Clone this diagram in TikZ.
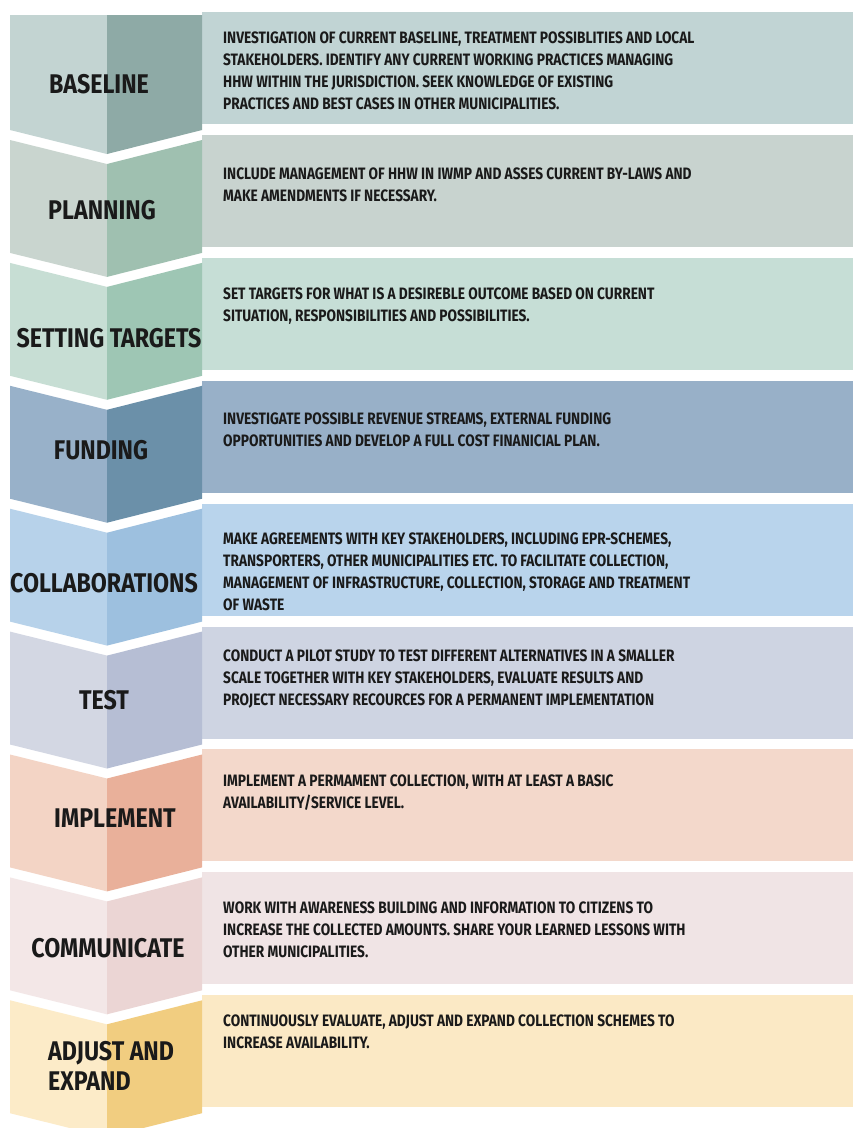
\documentclass[tikz,border=0pt]{standalone}
\usepackage{fontspec}
\setmainfont{Fira Sans}
\newfontfamily\descfont{Fira Sans}[FakeStretch=0.83]
\newfontfamily\labelfont{Fira Sans}[FakeStretch=0.86]
\definecolor{txt}{HTML}{1A1A1A}
\definecolor{aL}{HTML}{C3D4D2}\definecolor{aR}{HTML}{8EAAA6}\definecolor{aP}{HTML}{C1D4D4}
\definecolor{bL}{HTML}{C9D5CF}\definecolor{bR}{HTML}{9FC0B0}\definecolor{bP}{HTML}{C8D3CF}
\definecolor{cL}{HTML}{C7DED4}\definecolor{cR}{HTML}{9EC6B4}\definecolor{cP}{HTML}{C6DED6}
\definecolor{dL}{HTML}{98B1C9}\definecolor{dR}{HTML}{6B90A9}\definecolor{dP}{HTML}{98B0C8}
\definecolor{eL}{HTML}{B7D2EA}\definecolor{eR}{HTML}{9DC0DF}\definecolor{eP}{HTML}{B9D4EC}
\definecolor{fL}{HTML}{D3D7E3}\definecolor{fR}{HTML}{B6BED4}\definecolor{fP}{HTML}{CED4E2}
\definecolor{gL}{HTML}{F3D4C5}\definecolor{gR}{HTML}{E9B09A}\definecolor{gP}{HTML}{F3D8CB}
\definecolor{hL}{HTML}{F3E7E7}\definecolor{hR}{HTML}{EBD5D4}\definecolor{hP}{HTML}{F0E4E5}
\definecolor{iL}{HTML}{FCEBC8}\definecolor{iR}{HTML}{F1CD80}\definecolor{iP}{HTML}{FBE9C5}
\tikzset{
  desc/.style={anchor=north west, inner sep=0pt, align=left, text=txt,
    font=\descfont\fontsize{16.5}{21.7}\selectfont\bfseries},
  stagelabel/.style={inner sep=0pt, text=txt, align=left,
    font=\labelfont\fontsize{27}{30}\selectfont\bfseries}
}
\begin{document}
\begin{tikzpicture}[x=1pt,y=-1pt]
\useasboundingbox (0,0) rectangle (853,1128);
\fill[white] (0,0) rectangle (853,1128);
% panels and chevrons
\foreach \i/\c in {1/a,2/b,3/c,4/d,5/e,6/f,7/g,8/h,9/i}{
  \pgfmathsetmacro{\pt}{12+(\i-1)*122.9}
  \pgfmathsetmacro{\pb}{\pt+112}
  \fill[\c P] (202,\pt) rectangle (853,\pb);
  \pgfmathsetmacro{\t}{140+(\i-2)*122.9}
  \pgfmathsetmacro{\b}{140+(\i-1)*122.9-10}
  \ifnum\i=1
    \fill[\c L] (10,15) -- (107,15) -- (107,\b+24) -- (10,\b) -- cycle;
    \fill[\c R] (107,15) -- (202,15) -- (202,\b) -- (107,\b+24) -- cycle;
  \else
    \fill[\c L] (10,\t) -- (107,\t+24) -- (107,\b+24) -- (10,\b) -- cycle;
    \fill[\c R] (107,\t+24) -- (202,\t) -- (202,\b) -- (107,\b+24) -- cycle;
  \fi
}
% stage labels
\node[stagelabel] (l1) at (99,84) {BASELINE};
\node[stagelabel] (l2) at (102,210) {PLANNING};
\node[stagelabel] (l3) at (109,338) {SETTING TARGETS};
\node[stagelabel] (l4) at (101,450) {FUNDING};
\node[stagelabel] (l5) at (104,583) {COLLABORATIONS};
\node[stagelabel] (l6) at (104,700) {TEST};
\node[stagelabel] (l7) at (115,818) {IMPLEMENT};
\node[stagelabel] (l8) at (108,948) {COMMUNICATE};
\node[stagelabel, anchor=north west] (l9) at (48,1041) {ADJUST AND\\EXPAND};
% descriptions
\node[desc] (d1) at (223,32) {INVESTIGATION OF CURRENT BASELINE, TREATMENT POSSIBLITIES AND LOCAL\\STAKEHOLDERS. IDENTIFY ANY CURRENT WORKING PRACTICES MANAGING\\HHW WITHIN THE JURISDICTION. SEEK KNOWLEDGE OF EXISTING\\PRACTICES AND BEST CASES IN OTHER MUNICIPALITIES.};
\node[desc] (d2) at (223,168) {INCLUDE MANAGEMENT OF HHW IN IWMP AND ASSES CURRENT BY-LAWS AND\\MAKE AMENDMENTS IF NECESSARY.};
\node[desc] (d3) at (223,288) {SET TARGETS FOR WHAT IS A DESIREBLE OUTCOME BASED ON CURRENT\\SITUATION, RESPONSIBILITIES AND POSSIBILITIES.};
\node[desc] (d4) at (223,413) {INVESTIGATE POSSIBLE REVENUE STREAMS, EXTERNAL FUNDING\\OPPORTUNITIES AND DEVELOP A FULL COST FINANICIAL PLAN.};
\node[desc] (d5) at (223,533) {MAKE AGREEMENTS WITH KEY STAKEHOLDERS, INCLUDING EPR-SCHEMES,\\TRANSPORTERS, OTHER MUNICIPALITIES ETC. TO FACILITATE COLLECTION,\\MANAGEMENT OF INFRASTRUCTURE, COLLECTION, STORAGE AND TREATMENT\\OF WASTE};
\node[desc] (d6) at (223,650) {CONDUCT A PILOT STUDY TO TEST DIFFERENT ALTERNATIVES IN A SMALLER\\SCALE TOGETHER WITH KEY STAKEHOLDERS, EVALUATE RESULTS AND\\PROJECT NECESSARY RECOURCES FOR A PERMANENT IMPLEMENTATION};
\node[desc] (d7) at (223,775) {IMPLEMENT A PERMAMENT COLLECTION, WITH AT LEAST A BASIC\\AVAILABILITY/SERVICE LEVEL.};
\node[desc] (d8) at (223,902) {WORK WITH AWARENESS BUILDING AND INFORMATION TO CITIZENS TO\\INCREASE THE COLLECTED AMOUNTS. SHARE YOUR LEARNED LESSONS WITH\\OTHER MUNICIPALITIES.};
\node[desc] (d9) at (223,1015) {CONTINUOUSLY EVALUATE, ADJUST AND EXPAND COLLECTION SCHEMES TO\\INCREASE AVAILABILITY.};
\end{tikzpicture}
\end{document}
